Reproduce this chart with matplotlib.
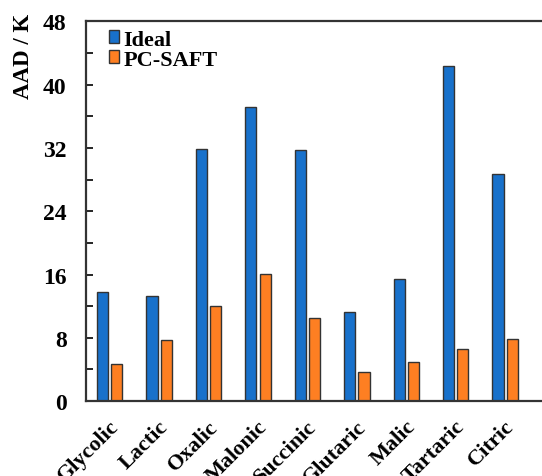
import matplotlib
matplotlib.use("Agg")
import matplotlib.pyplot as plt
import matplotlib.transforms as mtransforms
from matplotlib.ticker import MultipleLocator
import numpy as np

# AAD of predicted melting temperatures for each organic acid
acids = ["Glycolic", "Lactic", "Oxalic", "Malonic", "Succinic",
         "Glutaric", "Malic", "Tartaric", "Citric"]
ideal = [13.8, 13.35, 31.9, 37.2, 31.8, 11.25, 15.5, 42.35, 28.7]
pcsaft = [4.65, 7.75, 12.05, 16.1, 10.5, 3.7, 5.0, 6.6, 7.9]

plt.rcParams["font.family"] = ["Liberation Serif", "DejaVu Serif"]
plt.rcParams["font.weight"] = "bold"

fig = plt.figure(figsize=(5.42, 4.77), dpi=100)
ax = fig.add_axes([0.1587, 0.157, 0.86, 0.796])

x = np.arange(len(acids))
w = 0.225
ax.bar(x - 0.145, ideal, w, color="#1871cb", edgecolor="#333333", linewidth=1.0, label="Ideal")
ax.bar(x + 0.145, pcsaft, w, color="#fe7f22", edgecolor="#333333", linewidth=1.0, label="PC-SAFT")

ax.set_xlim(-0.48, 8.95)
ax.set_ylim(0, 48)
ax.yaxis.set_major_locator(MultipleLocator(8))
ax.yaxis.set_minor_locator(MultipleLocator(4))
ax.tick_params(axis="y", which="both", direction="in", length=5, width=1.2, labelsize=17, pad=14)
ax.tick_params(axis="x", length=0, labelsize=16, pad=16)
ax.set_xticks(x)
ax.set_xticklabels(acids, rotation=45, ha="right", va="center", rotation_mode="anchor")
shift = mtransforms.ScaledTranslation(6 / 100, 0, fig.dpi_scale_trans)
for lab in ax.get_xticklabels():
    lab.set_transform(lab.get_transform() + shift)

ax.set_ylabel("AAD / K", fontsize=16.5, fontweight="bold")
ax.yaxis.set_label_coords(-0.112, 0.91)

for side in ["left", "bottom", "top"]:
    ax.spines[side].set_linewidth(1.6)
    ax.spines[side].set_color("#333333")
ax.spines["right"].set_visible(False)

ax.legend(loc="upper left", frameon=False, fontsize=16, handlelength=0.45, handleheight=0.5,
          handletextpad=0.2, labelspacing=0.0, borderaxespad=0.0, borderpad=0.2,
          bbox_to_anchor=(0.04, 0.99))

fig.savefig("out.png", dpi=100)
